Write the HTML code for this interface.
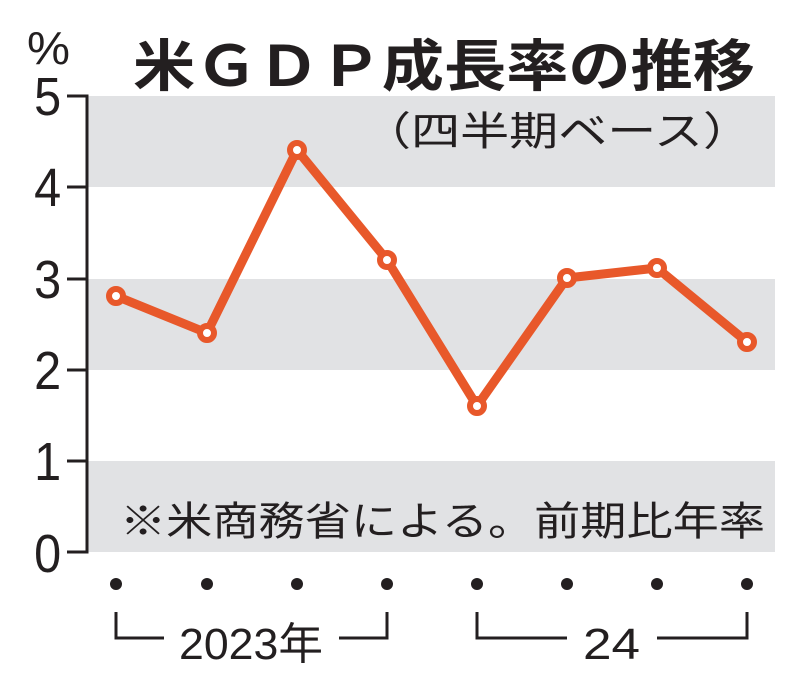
<!DOCTYPE html>
<html><head><meta charset="utf-8"><style>
body{margin:0;background:#fff;}
svg{display:block}
text{font-family:"Liberation Sans","Noto Sans CJK JP",sans-serif;fill:#231f20}
</style></head><body>
<svg width="800" height="688" viewBox="0 0 800 688">
<rect x="88" y="96" width="687" height="91" fill="#e1e2e4"/>
<rect x="88" y="279" width="687" height="91" fill="#e1e2e4"/>
<rect x="88" y="461" width="687" height="91" fill="#e1e2e4"/>
<g stroke="#231f20" stroke-width="3" fill="none">
<polyline points="67,96 87,96 87,552 67,552"/>
<line x1="67" y1="187" x2="87" y2="187"/>
<line x1="67" y1="279" x2="87" y2="279"/>
<line x1="67" y1="370" x2="87" y2="370"/>
<line x1="67" y1="461" x2="87" y2="461"/>
<polyline points="116,612 116,638 164,638"/>
<polyline points="339,638 387,638 387,612"/>
<polyline points="477,612 477,638 567,638"/>
<polyline points="657,638 747,638 747,612"/>
</g>
<g font-size="54" text-anchor="end" transform="scale(0.9,1)">
<text x="68" y="115">5</text><text x="68" y="206">4</text><text x="68" y="298">3</text>
<text x="68" y="389">2</text><text x="68" y="480">1</text><text x="68" y="572">0</text>
</g>
<text x="27" y="64" font-size="46" textLength="43" lengthAdjust="spacingAndGlyphs">%</text>
<text x="133" y="86" font-size="56" font-weight="bold" textLength="622" lengthAdjust="spacingAndGlyphs">米ＧＤＰ成長率の推移</text>
<text x="362" y="145" font-size="40" textLength="390" lengthAdjust="spacingAndGlyphs">（四半期ベース）</text>
<text x="120" y="535" font-size="40" textLength="645" lengthAdjust="spacingAndGlyphs">※米商務省による。前期比年率</text>
<text x="179" y="659" font-size="44" textLength="144" lengthAdjust="spacingAndGlyphs">2023年</text>
<text x="583" y="659" font-size="44" textLength="57" lengthAdjust="spacingAndGlyphs">24</text>
<g fill="#231f20">
<circle cx="116" cy="584" r="6"/><circle cx="207" cy="584" r="6"/><circle cx="297" cy="584" r="6"/><circle cx="387" cy="584" r="6"/>
<circle cx="477" cy="584" r="6"/><circle cx="567" cy="584" r="6"/><circle cx="657" cy="584" r="6"/><circle cx="747" cy="584" r="6"/>
</g>
<polyline fill="none" stroke="#e8582a" stroke-width="9" stroke-linejoin="round" points="116,296 207,333 297,150 387,260 477,406 567,278 657,268 747,342"/>
<g fill="#fff" stroke="#e8582a" stroke-width="6">
<circle cx="116" cy="296" r="7"/><circle cx="207" cy="333" r="7"/><circle cx="297" cy="150" r="7"/><circle cx="387" cy="260" r="7"/>
<circle cx="477" cy="406" r="7"/><circle cx="567" cy="278" r="7"/><circle cx="657" cy="268" r="7"/><circle cx="747" cy="342" r="7"/>
</g>
</svg>
</body></html>
